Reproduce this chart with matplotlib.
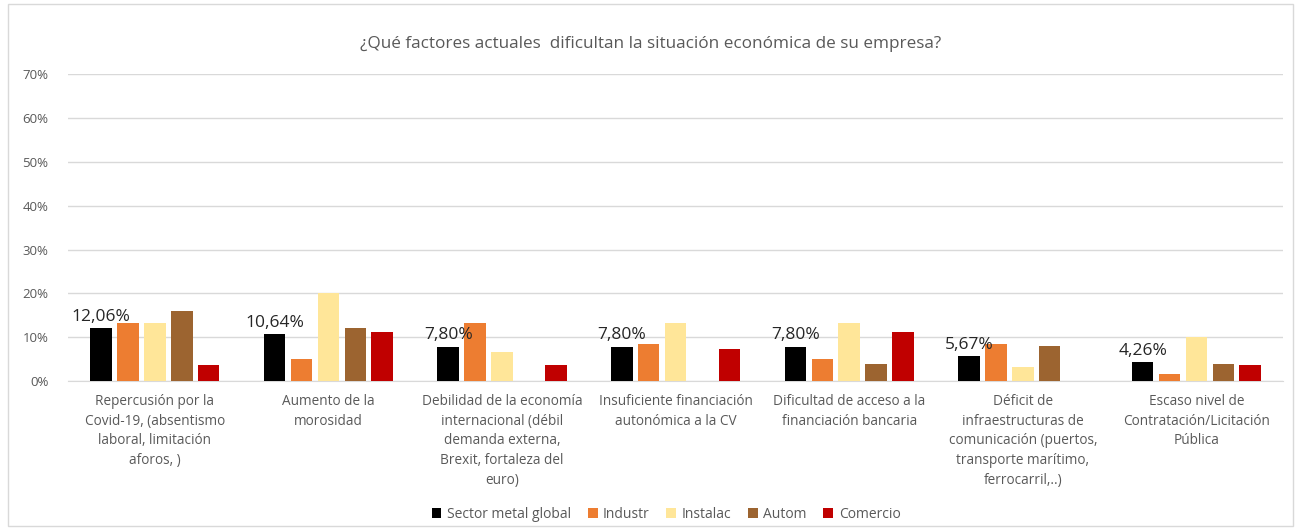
import numpy as np
import matplotlib.pyplot as plt
from matplotlib.patches import Rectangle

plt.rcParams['font.family'] = ['Open Sans', 'DejaVu Sans']

categories = [
    'Repercusión por la\nCovid-19, (absentismo\nlaboral, limitación\naforos, )',
    'Aumento de la\nmorosidad',
    'Debilidad de la economía\ninternacional (débil\ndemanda externa,\nBrexit, fortaleza del\neuro)',
    'Insuficiente financiación\nautonómica a la CV',
    'Dificultad de acceso a la\nfinanciación bancaria',
    'Déficit de\ninfraestructuras de\ncomunicación (puertos,\ntransporte marítimo,\nferrocarril,..)',
    'Escaso nivel de\nContratación/Licitación\nPública',
]
series_names = ['Sector metal global', 'Industr', 'Instalac', 'Autom', 'Comercio']
global_vals = [12.06, 10.64, 7.80, 7.80, 7.80, 5.67, 4.26]
industr = [13.3, 5.1, 13.3, 8.4, 5.1, 8.4, 1.6]
instalac = [13.3, 20.0, 6.7, 13.3, 13.3, 3.3, 10.0]
autom = [16.0, 12.0, 0.0, 0.0, 4.0, 8.0, 4.0]
comercio = [3.7, 11.1, 3.7, 7.4, 11.1, 0.0, 3.7]
global_labels = ['12,06%', '10,64%', '7,80%', '7,80%', '7,80%', '5,67%', '4,26%']

colors = ['#000000', '#ED7D31', '#FFE699', '#9C6430', '#C00000']
series = [global_vals, industr, instalac, autom, comercio]

fig = plt.figure(figsize=(13.01, 5.30), dpi=100)
ax = fig.add_axes([0.0523, 0.281, 0.934, 0.579])

x = np.arange(len(categories))
pitch = 0.155
width = 0.124
for i, (vals, name, c) in enumerate(zip(series, series_names, colors)):
    ax.bar(x + (i - 2) * pitch, vals, width, color=c, label=name, zorder=3)

for xi, v, lab in zip(x, global_vals, global_labels):
    ax.text(xi - 2 * pitch, v + 0.8, lab, ha='center', va='bottom', fontsize=12.5, color='#262626', zorder=4)

ax.set_xlim(-0.5, len(categories) - 0.5)
ax.set_ylim(0, 70)
ax.set_yticks(np.arange(0, 71, 10))
ax.set_yticklabels([f'{t}%' for t in range(0, 71, 10)], fontsize=9.5, color='#595959')
ax.set_xticks(x)
ax.set_xticklabels(categories, fontsize=9.8, color='#595959', linespacing=1.45)
ax.tick_params(length=0, pad=9)
ax.tick_params(axis='y', pad=14)
ax.grid(axis='y', color='#D9D9D9', linewidth=1, zorder=0)
for s in ['top', 'right', 'left']:
    ax.spines[s].set_visible(False)
ax.spines['bottom'].set_color('#D9D9D9')

fig.text(0.5, 0.917, '¿Qué factores actuales  dificultan la situación económica de su empresa?',
         ha='center', va='center', fontsize=12.3, color='#595959')

leg = ax.legend(loc='center', ncol=5, frameon=False, fontsize=10,
                handlelength=0.7, handleheight=0.7, columnspacing=1.2,
                handletextpad=0.4, labelcolor='#595959')
leg.set_bbox_to_anchor((0.512, 0.03), transform=fig.transFigure)

fig.patches.append(Rectangle((0.006, 0.008), 0.988, 0.985, transform=fig.transFigure,
                             fill=False, edgecolor='#D9D9D9', linewidth=1))

fig.savefig('out.png', dpi=100)
